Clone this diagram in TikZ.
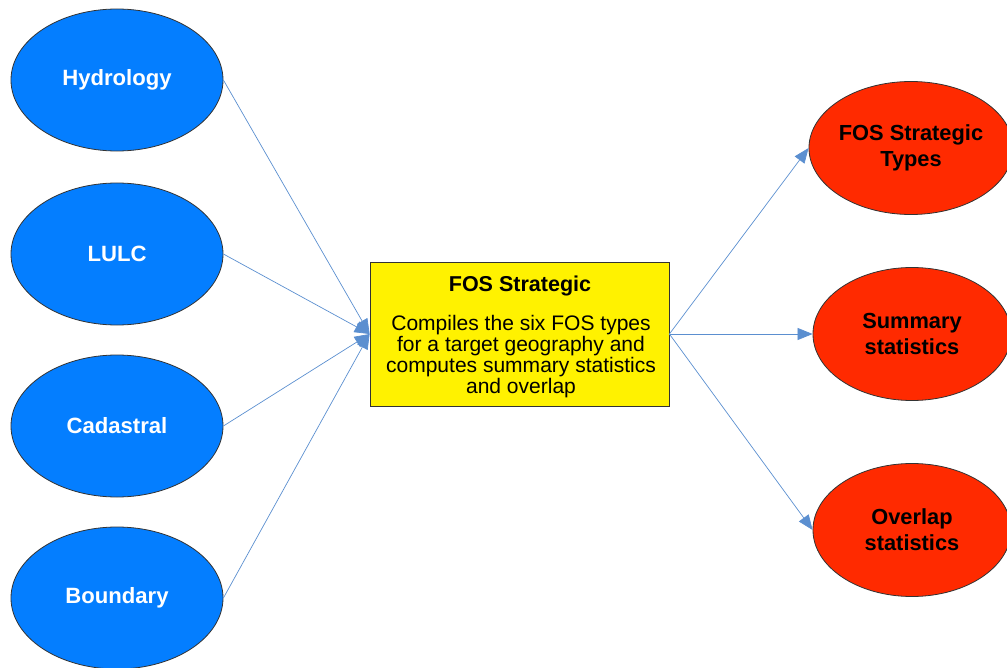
\documentclass[tikz,border=0pt]{standalone}
\usepackage{fontspec}
\setmainfont{Liberation Sans}
\usetikzlibrary{shapes.geometric,arrows.meta}
\definecolor{inblue}{HTML}{047EFF}
\definecolor{outred}{HTML}{FF2A00}
\definecolor{linkblue}{HTML}{5B8FD0}
\begin{document}
\begin{tikzpicture}[x=1bp,y=-1bp,
  inell/.style={ellipse,draw=black!80,line width=0.8bp,fill=inblue,inner sep=0pt,
    minimum width=212bp,minimum height=142bp,text=white,
    font=\fontsize{22.2}{26}\selectfont\bfseries,align=center},
  outell/.style={ellipse,draw=black!80,line width=0.8bp,fill=outred,inner sep=0pt,
    minimum width=198bp,minimum height=133bp,text=black,
    font=\fontsize{21.9}{26}\selectfont\bfseries,align=center},
  procbox/.style={rectangle,draw=black!80,line width=0.8bp,fill=yellow,inner sep=0pt,
    minimum width=299bp,minimum height=144bp},
  link/.style={draw=linkblue,line width=0.7bp,-{Triangle[length=15bp,width=12bp]}}
  ]
\useasboundingbox (0,0) rectangle (1007,668);
\node[inell] (hyd) at (117,80) {Hydrology};
\node[inell] (lulc) at (117,254) {LULC};
\node[inell] (cad) at (117,426) {Cadastral};
\node[inell] (bnd) at (117,598) {Boundary};
\node[procbox] (fos) at (519.5,334) {};
\node[font=\fontsize{21.6}{21}\selectfont\bfseries] (title) at (520,286) {FOS Strategic};
\node[font=\fontsize{21.1}{21}\selectfont,align=center,anchor=north] (body) at (521,312)
  {Compiles the six FOS types\\ for a target geography and\\ computes summary statistics\\ and overlap};
\node[outell] (types) at (911,148) {FOS Strategic\\Types};
\node[outell] (summ) at (912,334) {Summary\\statistics};
\node[outell] (over) at (912,530) {Overlap\\statistics};
\draw[link] (hyd.east) -- (fos.west);
\draw[link] (lulc.east) -- (fos.west);
\draw[link] (cad.east) -- (fos.west);
\draw[link] (bnd.east) -- (fos.west);
\draw[link] (fos.east) -- (types.west);
\draw[link] (fos.east) -- (summ.west);
\draw[link] (fos.east) -- (over.west);
\end{tikzpicture}
\end{document}
